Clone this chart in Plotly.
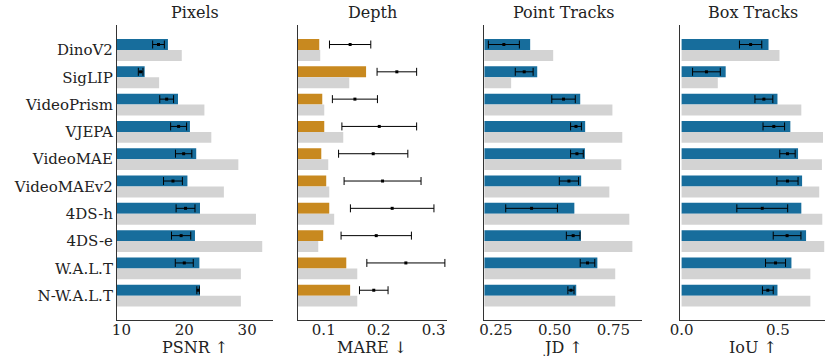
import plotly.graph_objects as go

models = ["DinoV2", "SigLIP", "VideoPrism", "VJEPA", "VideoMAE", "VideoMAEv2",
          "4DS-h", "4DS-e", "W.A.L.T", "N-W.A.L.T"]

# Pixels (PSNR)
psnr_main = [17.4, 13.7, 19.0, 20.9, 21.9, 20.5, 22.5, 21.7, 22.4, 22.5]
psnr_ref = [19.6, 16.0, 23.2, 24.3, 28.6, 26.3, 31.4, 32.4, 29.0, 29.0]
psnr_mean = [15.9, 13.06, 17.2, 19.1, 19.9, 18.2, 20.2, 19.5, 20.0, 22.2]
psnr_err = [0.93, 0.37, 1.1, 1.27, 1.3, 1.5, 1.5, 1.53, 1.43, 0.2]

# Depth (MARE)
mare_main = [0.0918, 0.177, 0.0973, 0.1009, 0.0955, 0.1045, 0.110, 0.099, 0.141, 0.148]
mare_ref = [0.0936, 0.1464, 0.1009, 0.1355, 0.1082, 0.110, 0.119, 0.090, 0.161, 0.161]
mare_mean = [0.148, 0.233, 0.1567, 0.201, 0.190, 0.207, 0.2245, 0.1955, 0.2494, 0.191]
mare_err = [0.0376, 0.036, 0.041, 0.068, 0.063, 0.070, 0.076, 0.064, 0.071, 0.026]

# Point tracks (JD)
jd_main = [0.396, 0.426, 0.609, 0.630, 0.629, 0.613, 0.584, 0.612, 0.682, 0.592]
jd_ref = [0.494, 0.315, 0.746, 0.788, 0.784, 0.733, 0.818, 0.831, 0.758, 0.758]
jd_mean = [0.284, 0.3706, 0.538, 0.591, 0.595, 0.561, 0.402, 0.579, 0.640, 0.5696]
jd_err = [0.066, 0.038, 0.050, 0.023, 0.027, 0.041, 0.110, 0.029, 0.031, 0.013]

# Box tracks (IoU)
iou_main = [0.4516, 0.229, 0.498, 0.565, 0.605, 0.626, 0.622, 0.6466, 0.5706, 0.498]
iou_ref = [0.5085, 0.188, 0.622, 0.7346, 0.729, 0.715, 0.731, 0.741, 0.669, 0.669]
iou_mean = [0.3585, 0.129, 0.4275, 0.479, 0.550, 0.550, 0.419, 0.548, 0.488, 0.448]
iou_err = [0.058, 0.072, 0.0465, 0.056, 0.040, 0.055, 0.132, 0.072, 0.052, 0.028]

titles = ["Pixels", "Depth", "Point Tracks", "Box Tracks"]
xlabels = ["PSNR ↑", "MARE ↓", "JD ↑", "IoU ↑"]
xticks = [[10, 20, 30], [0.1, 0.2, 0.3], [0.25, 0.50, 0.75], [0.0, 0.5]]
xtick_text = [["10", "20", "30"], ["0.1", "0.2", "0.3"], ["0.25", "0.50", "0.75"], ["0.0", "0.5"]]
xranges = [[9.3, 34.1], [0.053, 0.324], [0.2014, 0.871], [-0.008, 0.745]]

BLUE = "#176d9c"
ORANGE = "#c8891f"
GRAY = "#d3d3d3"
FONT = "DejaVu Serif"
TXT = "#222222"

W, H = 825, 356
ml, mr, mt, mb = 116.7, 0, 25, 36
pw = W - ml - mr
px_domains = [(116.7, 272.7), (297.7, 446.7), (484.3, 641.7), (680.0, 825.0)]
domains = [[(a - ml) / pw, (b - ml) / pw] for a, b in px_domains]

panels = [
    (psnr_main, psnr_ref, psnr_mean, psnr_err, BLUE),
    (mare_main, mare_ref, mare_mean, mare_err, ORANGE),
    (jd_main, jd_ref, jd_mean, jd_err, BLUE),
    (iou_main, iou_ref, iou_mean, iou_err, BLUE),
]

idx = list(range(len(models)))
pos_main = [i - 0.2 for i in idx]
pos_ref = [i + 0.2 for i in idx]

fig = go.Figure()
layout = dict(
    width=W, height=H,
    margin=dict(l=ml, r=mr, t=mt, b=mb, pad=0, autoexpand=False),
    plot_bgcolor="white", paper_bgcolor="white",
    showlegend=False,
    font=dict(family=FONT, size=15, color=TXT),
    annotations=[],
)

for k, (main, ref, mean, err, col) in enumerate(panels):
    xa = "x" if k == 0 else f"x{k+1}"
    ya = "y" if k == 0 else f"y{k+1}"
    fig.add_trace(go.Bar(x=main, y=pos_main, orientation="h", width=0.4,
                         marker=dict(color=col, line=dict(width=0)),
                         xaxis=xa, yaxis=ya))
    fig.add_trace(go.Bar(x=ref, y=pos_ref, orientation="h", width=0.4,
                         marker=dict(color=GRAY, line=dict(width=0)),
                         xaxis=xa, yaxis=ya))
    fig.add_trace(go.Scatter(x=mean, y=pos_main, mode="markers",
                             marker=dict(color="black", size=3, symbol="square"),
                             error_x=dict(type="data", array=err, visible=True,
                                          color="black", thickness=1, width=4),
                             xaxis=xa, yaxis=ya, cliponaxis=False))
    xkey = "xaxis" if k == 0 else f"xaxis{k+1}"
    ykey = "yaxis" if k == 0 else f"yaxis{k+1}"
    layout[xkey] = dict(
        domain=domains[k], range=xranges[k], anchor=ya, automargin=False,
        tickmode="array", tickvals=xticks[k], ticktext=xtick_text[k],
        showgrid=False, zeroline=False, showline=True, linecolor="#333333",
        linewidth=1.2, ticks="", tickfont=dict(family=FONT, size=15, color=TXT),
    )
    layout[ykey] = dict(
        domain=[0, 1], range=[9.89, -0.915], anchor=xa, automargin=False,
        tickmode="array", tickvals=idx, ticktext=models,
        showticklabels=(k == 0),
        showgrid=False, zeroline=False, showline=True, linecolor="#333333",
        linewidth=1.2, ticks="", tickfont=dict(family=FONT, size=15, color=TXT),
    )
    cx = (domains[k][0] + domains[k][1]) / 2
    layout["annotations"].append(dict(
        text=titles[k], x=cx, y=1.0, xref="paper", yref="paper",
        xanchor="center", yanchor="bottom", yshift=1, showarrow=False,
        font=dict(family=FONT, size=16, color=TXT)))
    layout["annotations"].append(dict(
        text=xlabels[k], x=cx, y=0, xref="paper", yref="paper",
        xanchor="center", yanchor="top", yshift=-16, showarrow=False,
        font=dict(family=FONT, size=16, color=TXT)))

layout["barmode"] = "overlay"
fig.update_layout(**layout)
for k in range(4):
    key = "xaxis" if k == 0 else f"xaxis{k+1}"
    try:
        fig.layout[key].ticklabelstandoff = -4
    except Exception:
        pass
fig.write_html(
    "out.html",
    config={"displayModeBar": False},
    post_script="document.body.style.margin='0';document.body.style.overflow='hidden';",
)
